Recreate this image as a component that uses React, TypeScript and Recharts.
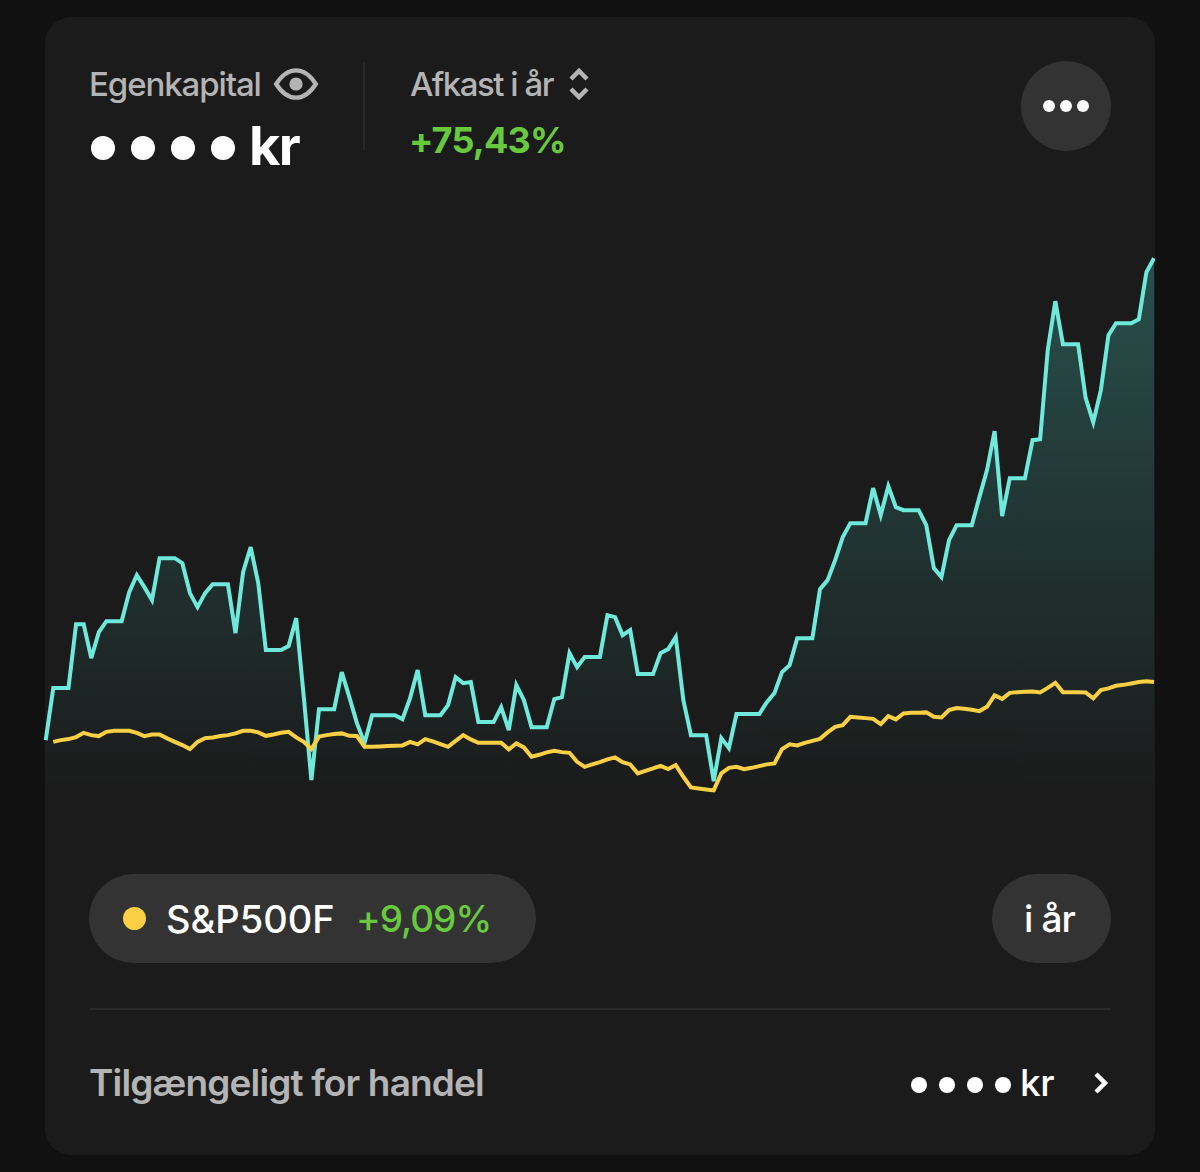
import React from 'react';
import { ComposedChart, Area, Line, XAxis, YAxis } from 'recharts';

// daily return in percent, year to date
const portfolioValues = [
  0, 8.14, 8.14, 8.14, 18.15, 18.15, 12.83, 16.9, 18.62, 18.62, 18.62, 23.16, 25.82, 23.94, 21.91, 28.48, 28.48, 28.48,
  27.7, 23.01, 20.81, 23.01, 24.41, 24.41, 24.41, 16.75, 26.29, 30.2, 24.57, 14.09, 14.09, 14.09, 14.71, 19.09, 6.73,
  -6.26, 4.85, 4.85, 4.85, 10.64, 6.73, 2.66, -0.47, 3.91, 3.91, 3.91, 3.91, 3.29, 6.57, 10.96, 3.91, 3.91, 3.91, 5.48,
  9.86, 8.92, 9.08, 2.82, 2.82, 2.82, 5.16, 1.57, 8.61, 6.26, 2.03, 2.03, 2.03, 6.42, 6.73, 13.62, 11.42, 12.99, 12.99,
  12.99, 19.56, 19.25, 16.43, 17.22, 10.33, 10.33, 10.33, 13.62, 14.24, 16.12, 6.26, 0.78, 0.78, 0.78, -6.42, 0.31,
  -1.25, 4.07, 4.07, 4.07, 4.07, 5.95, 7.36, 10.64, 11.74, 15.96, 15.96, 15.96, 23.63, 25.04, 28.17, 31.77, 33.96,
  33.96, 33.96, 39.44, 35.21, 39.75, 36.46, 35.99, 35.99, 35.99, 33.65, 26.92, 25.51, 31.3, 33.65, 33.65, 33.65, 38.03,
  42.26, 48.36, 35.06, 41, 41, 41, 46.95, 47.11, 61.04, 68.7, 61.97, 61.97, 61.97, 53.52, 49.77, 54.78, 63.38, 65.26,
  65.26, 65.26, 65.89, 73.24, 75.43,
];

const benchmarkValues: (number | null)[] = [
  null, -0.27, 0, 0.16, 0.47, 1.14, 0.78, 0.63, 1.3, 1.46, 1.46, 1.46, 1.14, 0.63, 0.89, 0.89, 0.27, -0.27, -0.78,
  -1.41, -0.27, 0.31, 0.42, 0.63, 0.78, 1.05, 1.46, 1.46, 1.21, 0.67, 0.89, 1.14, 1.3, 0.42, -0.27, -1.41, 0.55, 0.78,
  0.94, 1.05, 0.67, 0.63, -1.05, -1.05, -0.99, -0.94, -0.89, -0.83, -0.27, -0.67, 0.16, -0.2, -0.63, -1.05, -0.11, 0.78,
  0.11, -0.42, -0.42, -0.42, -0.42, -1.46, -0.52, -1.14, -2.61, -2.3, -1.92, -1.67, -1.88, -1.99, -3.4, -4.18, -3.8,
  -3.44, -3.02, -2.71, -3.44, -3.8, -5.21, -4.8, -4.43, -4.02, -4.54, -3.91, -5.74, -7.4, -7.56, -7.72, -7.87, -5.21,
  -4.34, -4.18, -4.54, -4.34, -4.07, -3.8, -3.65, -1.41, -0.67, -0.83, -0.42, -0.11, 0.2, 1.21, 2.08, 2.35, 3.65, 3.55,
  3.44, 3.33, 2.5, 3.76, 3.24, 4.18, 4.27, 4.27, 4.34, 3.65, 3.55, 4.7, 5.01, 4.9, 4.74, 4.54, 5.21, 7, 6.46, 7.4, 7.51,
  7.56, 7.62, 7.47, 8.18, 8.97, 7.51, 7.51, 7.51, 7.47, 6.53, 7.82, 8.09, 8.5, 8.65, 8.87, 9.08, 9.23, 9.09,
];

const chartData = portfolioValues.map((value, i) => ({ day: i, portfolio: value, benchmark: benchmarkValues[i] }));

const GREY = '#b4b4b4';
const GREEN = '#68c93f';
const PILL = '#333333';

const Label = ({ x, y, size, color, weight = 500, spacing = 0, children }: any) => (
  <div
    style={{
      position: 'absolute',
      left: x,
      top: y,
      fontSize: size,
      lineHeight: 1,
      color,
      fontWeight: weight,
      letterSpacing: spacing,
      whiteSpace: 'nowrap',
    }}
  >
    {children}
  </div>
);

const Dot = ({ cx, cy, r, color = '#fff' }: any) => (
  <div
    style={{
      position: 'absolute',
      left: cx - r,
      top: cy - r,
      width: r * 2,
      height: r * 2,
      borderRadius: '50%',
      background: color,
    }}
  />
);

const Box = ({ x, y, w, h, radius = 0, color = PILL }: any) => (
  <div style={{ position: 'absolute', left: x, top: y, width: w, height: h, borderRadius: radius, background: color }} />
);

export default function App() {
  return (
    <div
      style={{
        position: 'fixed',
        left: 0,
        top: 0,
        width: 1200,
        height: 1172,
        overflow: 'hidden',
        background: '#111111',
        fontFamily: 'Inter, sans-serif',
      }}
    >
      <Box x={45} y={17} w={1110} h={1138} radius={26} color="#1b1b1b" />

      <div style={{ position: 'absolute', left: 0, top: 229 }}>
        <ComposedChart
          width={1155}
          height={575}
          data={chartData}
          margin={{ top: 0, right: 1, left: 45.7, bottom: 0 }}
        >
          <defs>
            <linearGradient id="portfolioFill" x1="0" y1="0" x2="0" y2="1">
              <stop offset="0%" stopColor="#29504d" />
              <stop offset="50%" stopColor="#213433" />
              <stop offset="80%" stopColor="#1d2524" />
              <stop offset="97%" stopColor="#1b1b1b" />
            </linearGradient>
          </defs>
          <XAxis dataKey="day" type="number" domain={[0, 146]} hide />
          <YAxis type="number" domain={[-10, 80]} hide />
          <Area
            type="linear"
            dataKey="portfolio"
            stroke="#6fe9dc"
            strokeWidth={4}
            fill="url(#portfolioFill)"
            fillOpacity={1}
            baseValue={-10}
            dot={false}
            activeDot={false}
            isAnimationActive={false}
          />
          <Line
            type="linear"
            dataKey="benchmark"
            stroke="#f8cf45"
            strokeWidth={4}
            dot={false}
            activeDot={false}
            isAnimationActive={false}
          />
        </ComposedChart>
      </div>

      <Label x={89} y={68} size={33} color={GREY} spacing={-1.1}>Egenkapital</Label>
      <svg style={{ position: 'absolute', left: 273, top: 67 }} width={46} height={34} viewBox="0 0 48 36">
        <path
          d="M3 18 C10 7 17 3.5 24 3.5 C31 3.5 38 7 45 18 C38 29 31 32.5 24 32.5 C17 32.5 10 29 3 18 Z"
          fill="none"
          stroke={GREY}
          strokeWidth={4.5}
        />
        <circle cx={24} cy={18} r={7} fill={GREY} />
      </svg>
      <Box x={363} y={62} w={2} h={88} color="#282828" />
      <Label x={410} y={68} size={33} color={GREY} spacing={-1.5}>Afkast i år</Label>
      <svg style={{ position: 'absolute', left: 566, top: 66 }} width={26} height={36} viewBox="0 0 26 36">
        <path d="M5 13 L13 5 L21 13 M5 23 L13 31 L21 23" fill="none" stroke={GREY} strokeWidth={4.5} />
      </svg>
      <Label x={409} y={122} size={36} color={GREEN} weight={700} spacing={-0.8}>+75,43%</Label>

      {[103, 143, 183, 223].map((cx) => (
        <Dot key={cx} cx={cx} cy={148} r={12} />
      ))}
      <Label x={249} y={119} size={54} color="#fff" weight={700} spacing={-1.5}>kr</Label>

      <Dot cx={1066} cy={106} r={45} color={PILL} />
      {[1049, 1066, 1083].map((cx) => (
        <Dot key={cx} cx={cx} cy={106} r={6} />
      ))}

      <Box x={89} y={874} w={447} h={89} radius={45} />
      <Dot cx={134} cy={918} r={11.5} color="#fbcf45" />
      <Label x={166} y={900} size={38} color="#fff" spacing={0}>S&amp;P500F</Label>
      <Label x={356} y={900} size={37} color={GREEN} spacing={-1}>+9,09%</Label>

      <Box x={992} y={874} w={119} h={89} radius={45} />
      <Label x={1024} y={900} size={37} color="#fff" spacing={-0.9}>i år</Label>

      <Box x={90} y={1008} w={1021} h={2} color="#2a2a2a" />

      <Label x={89} y={1064} size={37} color={GREY} weight={600} spacing={-0.85}>Tilgængeligt for handel</Label>
      {[919, 947, 975, 1003].map((cx) => (
        <Dot key={cx} cx={cx} cy={1085} r={8} />
      ))}
      <Label x={1020} y={1064} size={37} color="#fff" spacing={-0.5}>kr</Label>
      <svg style={{ position: 'absolute', left: 1090, top: 1069 }} width={22} height={28} viewBox="0 0 22 28">
        <path d="M6 5 L15 14 L6 23" fill="none" stroke="#fff" strokeWidth={4.5} />
      </svg>
    </div>
  );
}
